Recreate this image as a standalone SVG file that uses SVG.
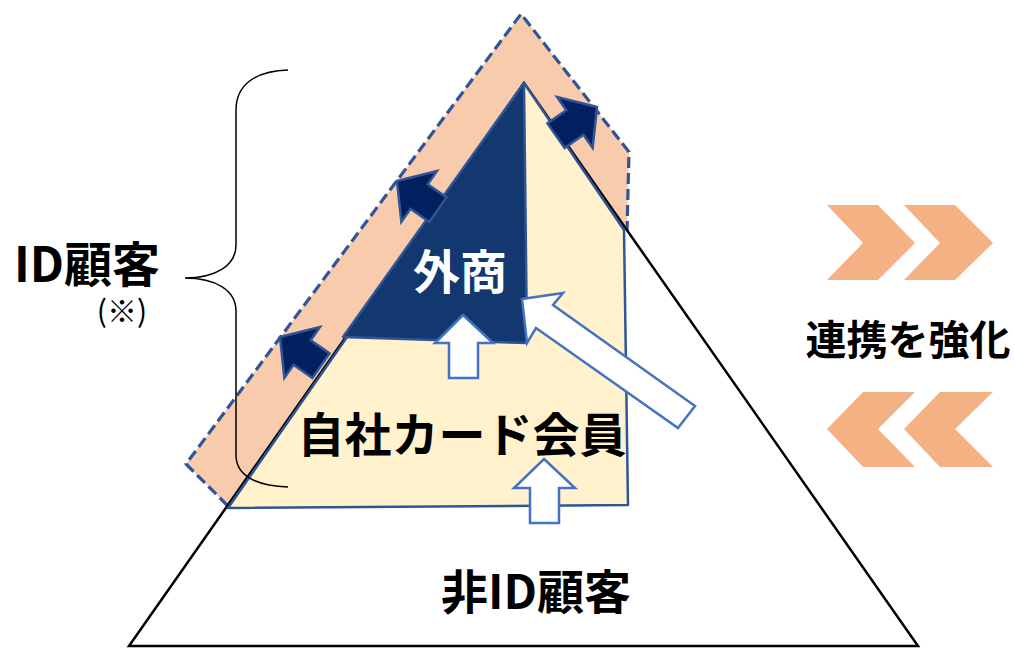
<svg xmlns="http://www.w3.org/2000/svg" width="1015" height="648" viewBox="0 0 1015 648">
  <defs>
    <style>
      .jp { font-family: "Noto Sans CJK JP", "Noto Sans CJK SC", sans-serif; font-weight: 700; }
      .jpn { font-family: "Noto Sans CJK JP", "Noto Sans CJK SC", sans-serif; font-weight: 400; }
      .band { fill: #F8CBAD; stroke: none; }
      .dash { fill: none; stroke: #2F5597; stroke-width: 3.2; stroke-dasharray: 11 5; stroke-linejoin: round; }
      .tri { fill: #FFFFFF; stroke: #000000; stroke-width: 2.5; stroke-linejoin: miter; }
      .cream { fill: #FFF2CC; stroke: #2F5597; stroke-width: 2.5; stroke-linejoin: round; }
      .navy { fill: #12386F; stroke: #2F5597; stroke-width: 2.5; stroke-linejoin: round; }
      .darr { fill: #002060; stroke: #2F5597; stroke-width: 2.5; stroke-linejoin: miter; }
      .warr { fill: #FFFFFF; stroke: #4472C4; stroke-width: 2.5; stroke-linejoin: miter; }
      .chev { fill: #F4B183; stroke: none; }
      .brace { fill: none; stroke: #000000; stroke-width: 1.5; }
    </style>
    <polygon id="outArrow" points="0,0 -27,-31 -27,-15 -50,-15 -50,15 -27,15 -27,31"/>
  </defs>

  <g id="id-customers-band">
    <polygon class="band" points="521,14 629,152 627,232 524,83 228,506 186,464"/>
    <polyline class="dash" points="627,232 629,152 521,14 186,464 228,506"/>
  </g>

  <g id="non-id-customers">
    <polygon class="tri" points="129,646 524,83 918,646"/>
    <text class="jp" x="536" y="609" font-size="47" text-anchor="middle" fill="#000000">非ID顧客</text>
  </g>

  <g id="card-members">
    <polygon class="cream" points="524,83 624,230 628,505 228,508"/>
    <text class="jp" x="462" y="452" font-size="47" text-anchor="middle" fill="#000000">自社カード会員</text>
  </g>

  <g id="gaisho">
    <polygon class="navy" points="524,83 527,343 343,337"/>
    <text class="jp" x="460" y="289" font-size="47" text-anchor="middle" fill="#FFFFFF">外商</text>
  </g>

  <g id="connectors">
    <use href="#outArrow" class="darr" transform="translate(397,181) rotate(215)"/>
    <use href="#outArrow" class="darr" transform="translate(280,337) rotate(215)"/>
    <use href="#outArrow" class="darr" transform="translate(597,107) rotate(-35)"/>
    <polygon class="warr" points="463,315 493,343 478,343 478,378 449,378 449,343 435,343"/>
    <polygon class="warr" points="544,459 575,488 559,488 559,523 530,523 530,488 514,488"/>
    <polygon class="warr" points="522,299 563,293 553,305 695,406 678,428 536,328 527,343"/>
  </g>

  <g id="chevrons-right">
    <polygon class="chev" points="827,205 878,205 915,243 878,280 827,280 863,243"/>
    <polygon class="chev" points="904,205 955,205 993,243 955,280 904,280 940,243"/>
  </g>
  <g id="chevrons-left">
    <polygon class="chev" points="827,429 863,392 915,392 878,429 915,467 863,467"/>
    <polygon class="chev" points="904,429 940,392 993,392 955,429 993,467 940,467"/>
  </g>

  <g id="collaboration-label">
    <text class="jp" x="908" y="355" font-size="41" text-anchor="middle" fill="#000000">連携を強化</text>
  </g>

  <g id="id-customers-label">
    <path class="brace" d="M288,70 C255,71 236,85 236,110 L236,245 C236,266 215,278 185,278 C215,278 236,290 236,311 L236,455 C236,475 255,486 288,487"/>
    <text class="jp" x="87" y="282" font-size="48" text-anchor="middle" fill="#000000">ID顧客</text>
    <text class="jpn" x="122" y="322" font-size="30" text-anchor="middle" fill="#000000">(※)</text>
  </g>
</svg>
